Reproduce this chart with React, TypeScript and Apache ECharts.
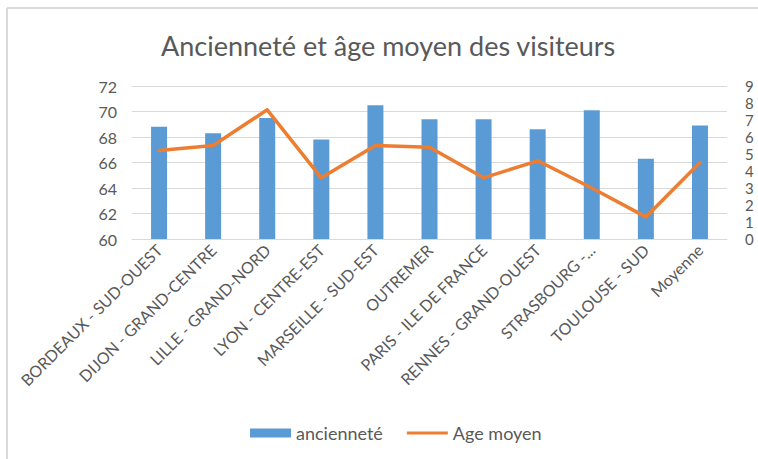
import React, { useEffect, useRef } from "react";
import * as echarts from "echarts";

const categories = [
  "BORDEAUX - SUD-OUEST",
  "DIJON - GRAND-CENTRE",
  "LILLE - GRAND-NORD",
  "LYON - CENTRE-EST",
  "MARSEILLE - SUD-EST",
  "OUTREMER",
  "PARIS - ILE DE FRANCE",
  "RENNES - GRAND-OUEST",
  "STRASBOURG -...",
  "TOULOUSE - SUD",
  "Moyenne",
];
const ancienneteValues = [68.8, 68.3, 69.5, 67.8, 70.5, 69.4, 69.4, 68.6, 70.1, 66.3, 68.9];
const ageMoyenValues = [5.2, 5.5, 7.6, 3.6, 5.5, 5.4, 3.6, 4.6, 3.0, 1.3, 4.5];
const leftTicks = { min: 60, max: 72, interval: 2 };
const rightTicks = { min: 0, max: 9, interval: 1 };
const titleText = "Ancienneté et âge moyen des visiteurs";
const seriesNames = ["ancienneté", "Age moyen"];

const FONT = "Lato, 'Open Sans', sans-serif";
const TXT = "#595959";

export default function App() {
  const ref = useRef<HTMLDivElement>(null);
  useEffect(() => {
    if (!ref.current) return;
    const chart = echarts.init(ref.current, null, { renderer: "svg" });
    chart.setOption({
      animation: false,
      backgroundColor: "#ffffff",
      textStyle: { fontFamily: FONT, color: TXT },
      title: {
        text: titleText,
        left: 156,
        top: 27,
        textStyle: { fontFamily: FONT, fontSize: 27, fontWeight: "normal", color: TXT },
      },
      graphic: [
        { type: "line", shape: { x1: 7, y1: 8, x2: 758, y2: 8 }, style: { stroke: "#d9d9d9", lineWidth: 2 } },
        { type: "line", shape: { x1: 7, y1: 8, x2: 7, y2: 459 }, style: { stroke: "#d9d9d9", lineWidth: 2 } },
      ],
      legend: {
        data: [
          { name: seriesNames[0], icon: "rect" },
          { name: seriesNames[1], icon: "path://M0,0h40v3H0z" },
        ],
        bottom: 12,
        left: 245,
        itemWidth: 41,
        itemHeight: 9,
        itemGap: 24,
        textStyle: { fontFamily: FONT, fontSize: 18, color: TXT },
      },
      grid: { left: 132, right: 31, top: 86, bottom: 220 },
      xAxis: {
        type: "category",
        data: categories,
        axisLine: { lineStyle: { color: "#d9d9d9", width: 1 } },
        axisTick: { show: false },
        axisLabel: {
          rotate: 45,
          interval: 0,
          fontFamily: FONT,
          fontSize: 16,
          color: TXT,
          margin: 8,
        },
      },
      yAxis: [
        {
          type: "value",
          min: leftTicks.min,
          max: leftTicks.max,
          interval: leftTicks.interval,
          axisLine: { show: false },
          axisTick: { show: false },
          splitLine: { lineStyle: { color: "#d9d9d9", width: 1 } },
          axisLabel: { fontFamily: FONT, fontSize: 16, color: TXT, margin: 15 },
        },
        {
          type: "value",
          min: rightTicks.min,
          max: rightTicks.max,
          interval: rightTicks.interval,
          axisLine: { show: false },
          axisTick: { show: false },
          splitLine: { show: false },
          axisLabel: { fontFamily: FONT, fontSize: 15, lineHeight: 15, color: TXT, margin: 18 },
        },
      ],
      series: [
        {
          name: seriesNames[0],
          type: "bar",
          yAxisIndex: 0,
          data: ancienneteValues,
          barWidth: 16,
          itemStyle: { color: "#5B9BD5" },
        },
        {
          name: seriesNames[1],
          type: "line",
          yAxisIndex: 1,
          data: ageMoyenValues,
          symbol: "none",
          itemStyle: { color: "#ED7D31" },
          lineStyle: { color: "#ED7D31", width: 3.5, cap: "round", join: "round" },
        },
      ],
    });
    return () => chart.dispose();
  }, []);
  return (
    <div
      ref={ref}
      style={{ position: "fixed", left: 0, top: 0, width: 758, height: 459 }}
    />
  );
}
